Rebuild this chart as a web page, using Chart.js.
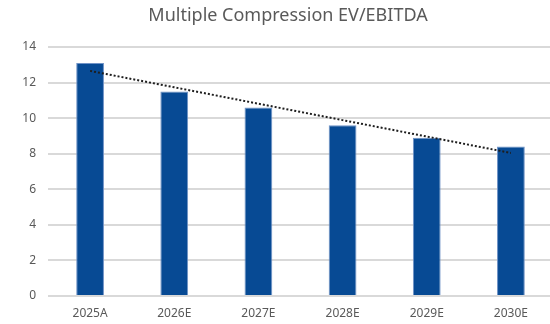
<!DOCTYPE html>
<html>
<head>
<meta charset="utf-8">
<script src="https://cdn.jsdelivr.net/npm/chart.js@4"></script>
<style>
  html, body { margin: 0; padding: 0; background: #fff; overflow: hidden; }
  #wrap { width: 560px; height: 324px; }
</style>
</head>
<body>
<div id="wrap"><canvas id="chart" width="560" height="324"></canvas></div>
<script>
// chart data
const categories = ['2025A', '2026E', '2027E', '2028E', '2029E', '2030E'];
const multiples = [13.1, 11.5, 10.6, 9.6, 8.9, 8.4];
const yTicks = [0, 2, 4, 6, 8, 10, 12, 14];
const chartTitle = 'Multiple Compression EV/EBITDA';

// linear trendline, like the one excel adds
function linearTrend(values) {
  const n = values.length;
  const meanX = (n - 1) / 2;
  const meanY = values.reduce((a, b) => a + b, 0) / n;
  let sxy = 0;
  let sxx = 0;
  values.forEach((v, i) => {
    sxy += (i - meanX) * (v - meanY);
    sxx += (i - meanX) * (i - meanX);
  });
  const slope = sxy / sxx;
  return values.map((v, i) => meanY + slope * (i - meanX));
}

const GREY = '#595959';
const FONT = "'Noto Sans', 'Liberation Sans', sans-serif";

const titlePlugin = {
  id: 'centredTitle',
  afterDraw(chart) {
    const ctx = chart.ctx;
    ctx.save();
    ctx.font = '18px ' + FONT;
    ctx.fillStyle = GREY;
    ctx.textAlign = 'center';
    ctx.textBaseline = 'middle';
    ctx.fillText(chartTitle, 288, 16);
    ctx.restore();
  }
};

new Chart(document.getElementById('chart'), {
  type: 'bar',
  data: {
    labels: categories,
    datasets: [
      {
        type: 'line',
        data: linearTrend(multiples),
        borderColor: '#1e1e1e',
        borderWidth: 2,
        borderDash: [2, 2],
        pointRadius: 0,
        fill: false,
        order: 0
      },
      {
        data: multiples,
        backgroundColor: '#074a94',
        borderColor: '#6f92c6',
        borderWidth: 1,
        categoryPercentage: 1,
        barPercentage: 0.33,
        order: 1
      }
    ]
  },
  options: {
    responsive: false,
    animation: false,
    layout: { padding: { top: 47, right: 7, bottom: 0, left: 0 } },
    plugins: {
      legend: { display: false },
      tooltip: { enabled: false },
      title: { display: false }
    },
    scales: {
      x: {
        grid: { display: false, drawTicks: false },
        border: { display: false },
        ticks: { color: GREY, font: { family: FONT, size: 12 }, padding: 10 },
        afterFit(scale) { scale.height = 28; }
      },
      y: {
        min: 0,
        max: 14,
        afterBuildTicks(scale) { scale.ticks = yTicks.map(v => ({ value: v })); },
        grid: { color: '#d9d9d9', lineWidth: 2, drawTicks: false },
        border: { display: false },
        ticks: { color: GREY, font: { family: FONT, size: 12 }, padding: 12 },
        afterFit(scale) { scale.width = 48; }
      }
    }
  },
  plugins: [titlePlugin]
});
</script>
</body>
</html>
